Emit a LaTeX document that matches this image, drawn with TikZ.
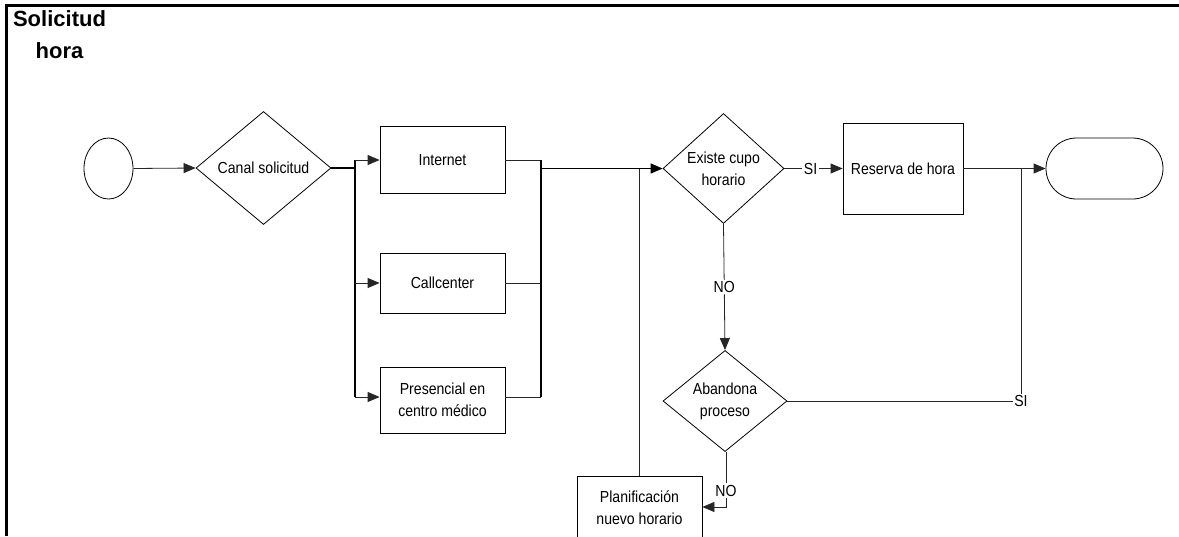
\documentclass[tikz,border=0pt]{standalone}
\usepackage{fontspec}
\setmainfont{Liberation Sans}[FakeStretch=0.88]
\newfontfamily\titlefont{Liberation Sans}
\usetikzlibrary{shapes.geometric,shapes.misc,arrows.meta}
\tikzset{
  base/.style={draw=black,line width=0.8pt,font=\fontsize{16}{22}\selectfont,align=center,inner sep=0pt},
  proc/.style={base,rectangle},
  dec/.style={base,diamond},
  conn/.style={line width=0.8pt,draw=black!85},
  thick conn/.style={line width=1.4pt,draw=black},
  arr/.style={-{Triangle[length=12pt,width=10pt]}},
  lbl/.style={fill=white,inner sep=1.5pt,font=\fontsize{16}{18}\selectfont}
}
\begin{document}
\begin{tikzpicture}[x=1pt,y=-1pt]
\useasboundingbox (0,0) rectangle (1179,536);
% frame
\draw[line width=2.2pt] (6.5,536) -- (6.5,5.5) -- (1179,5.5);
\node[align=center,font=\titlefont\bfseries\fontsize{22}{32}\selectfont,inner sep=0pt] (title) at (59.5,35) {Solicitud\\hora};

% nodes
\node[base,ellipse,minimum width=49pt,minimum height=61pt] (start) at (108.5,168.5) {};
\node[dec,minimum width=135pt,minimum height=113pt] (canal) at (263.5,168) {Canal solicitud};
\node[proc,minimum width=125pt,minimum height=67pt] (internet) at (442.5,160) {Internet};
\node[proc,minimum width=125pt,minimum height=60pt] (call) at (442.5,283) {Callcenter};
\node[proc,minimum width=125pt,minimum height=66pt] (pres) at (442.5,400) {Presencial en\\centro médico};
\node[dec,minimum width=121pt,minimum height=110pt] (existe) at (723.5,168.5) {Existe cupo\\horario};
\node[proc,minimum width=120pt,minimum height=91pt] (reserva) at (903,168.5) {Reserva de hora};
\node[base,rounded rectangle,minimum width=117pt,minimum height=61pt] (fin) at (1104.5,168.5) {};
\node[dec,minimum width=124pt,minimum height=92pt] (aband) at (725,401) {Abandona\\proceso};
\node[proc,minimum width=125pt,minimum height=64pt] (plan) at (639.5,508) {Planificación\\nuevo horario};

% coordinates
\coordinate (sA) at (355,160);
\coordinate (sB) at (355,397);
\coordinate (jA) at (541,160);
\coordinate (jB) at (541,397);
\coordinate (jEnd) at (1021,168.5);
\coordinate (nob) at (726,507);

% connectors
\draw[conn,arr] (start.east) -- (canal.west);
\draw[thick conn] (canal.east) -- (canal.east -| sA);
\draw[thick conn] (sA) -- (sB);
\draw[conn,arr] (sA) -- (internet.west |- sA);
\draw[conn,arr] (sA |- call.west) -- (call.west);
\draw[conn,arr] (sB) -- (pres.west |- sB);

\draw[conn] (internet.east |- jA) -- (jA);
\draw[conn] (call.east) -- (jA |- call.east);
\draw[conn] (pres.east |- jB) -- (jB);
\draw[thick conn] (jA) -- (jB);
\draw[thick conn,arr] (jA |- existe.west) -- (existe.west);

\draw[conn,arr] (existe.east) -- node[lbl,pos=0.45]{SI} (reserva.west);
\draw[conn,arr] (reserva.east) -- (fin.west);
\draw[conn,arr] (existe.south) -- node[lbl,pos=0.5]{NO} (aband.north);
\draw[conn] (aband.east) -| node[lbl,pos=0.5,inner sep=1pt]{SI} (jEnd);
\draw[conn,arr] (aband.south -| nob) -- node[lbl,pos=0.7]{NO} (nob) -- (plan.east |- nob);
\draw[conn] (plan.north) -- (plan.north |- existe.west);
\end{tikzpicture}
\end{document}
